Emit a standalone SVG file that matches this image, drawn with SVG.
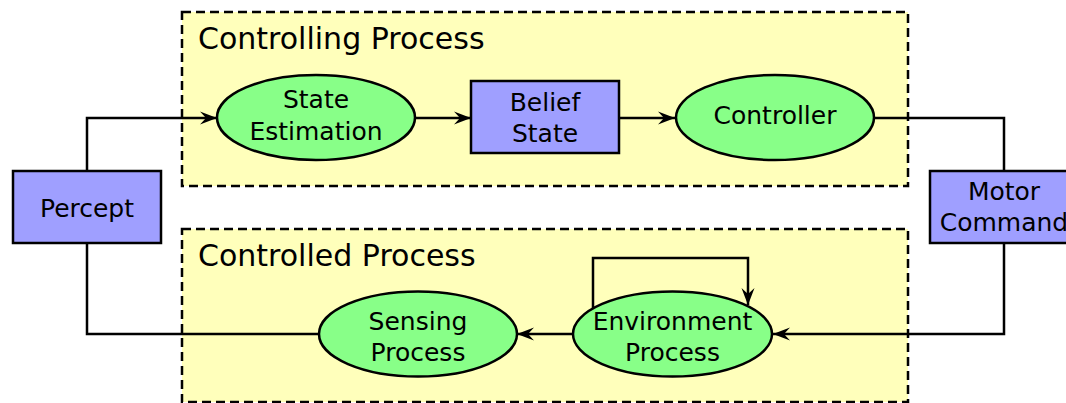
<svg xmlns="http://www.w3.org/2000/svg" width="1066" height="403" viewBox="0 0 1066 403">
  <style>
    text { font-family: "DejaVu Sans", "Liberation Sans", sans-serif; fill: #000; }
    .title { font-size: 30px; }
    .lbl { font-size: 25px; text-anchor: middle; }
    .proc { fill: #ffffbb; stroke: #000; stroke-width: 2.5; stroke-dasharray: 9 5; }
    .ell { fill: #88ff88; stroke: #000; stroke-width: 2.5; }
    .box { fill: #9f9fff; stroke: #000; stroke-width: 2.5; }
    .wire { fill: none; stroke: #000; stroke-width: 2.5; }
  </style>
  <defs>
    <marker id="arrow" markerUnits="userSpaceOnUse" markerWidth="22" markerHeight="16" viewBox="-20 -8 22 16" refX="0" refY="0" orient="auto">
      <path d="M0,0 L-17,-6.5 L-11,0 L-17,6.5 Z" fill="#000"/>
    </marker>
  </defs>

  <!-- process regions -->
  <g id="controlling-process">
    <rect class="proc" x="182" y="12" width="726" height="174"/>
    <text class="title" x="198" y="49">Controlling Process</text>
  </g>
  <g id="controlled-process">
    <rect class="proc" x="182" y="229" width="726" height="173"/>
    <text class="title" x="198" y="266">Controlled Process</text>
  </g>

  <!-- connectors -->
  <g id="connectors">
    <path class="wire" d="M87,171 V118 H217" marker-end="url(#arrow)"/>
    <path class="wire" d="M415,118 H471" marker-end="url(#arrow)"/>
    <path class="wire" d="M619,118 H675" marker-end="url(#arrow)"/>
    <path class="wire" d="M874,118 H1004 V171"/>
    <path class="wire" d="M1004,243 V334 H773" marker-end="url(#arrow)"/>
    <path class="wire" d="M573,334 H517" marker-end="url(#arrow)"/>
    <path class="wire" d="M319,334 H87 V243"/>
    <path class="wire" d="M593,312 V258 H748 V305" marker-end="url(#arrow)"/>
  </g>

  <!-- nodes -->
  <g id="percept">
    <rect class="box" x="13" y="171" width="148" height="72"/>
    <text class="lbl" x="87" y="217">Percept</text>
  </g>
  <g id="state-estimation">
    <ellipse class="ell" cx="316" cy="117.5" rx="99" ry="42.5"/>
    <text class="lbl" x="316" y="108">State</text>
    <text class="lbl" x="316" y="140">Estimation</text>
  </g>
  <g id="belief-state">
    <rect class="box" x="471" y="81" width="148" height="72"/>
    <text class="lbl" x="545" y="111">Belief</text>
    <text class="lbl" x="545" y="142">State</text>
  </g>
  <g id="controller">
    <ellipse class="ell" cx="775" cy="117.5" rx="99" ry="42.5"/>
    <text class="lbl" x="775" y="124">Controller</text>
  </g>
  <g id="motor-command">
    <rect class="box" x="930" y="171" width="148" height="72"/>
    <text class="lbl" x="1004" y="200">Motor</text>
    <text class="lbl" x="1004" y="231">Command</text>
  </g>
  <g id="environment-process">
    <ellipse class="ell" cx="672.5" cy="334" rx="99.5" ry="42.5"/>
    <text class="lbl" x="672.5" y="330">Environment</text>
    <text class="lbl" x="672.5" y="361">Process</text>
  </g>
  <g id="sensing-process">
    <ellipse class="ell" cx="418" cy="334" rx="99" ry="42.5"/>
    <text class="lbl" x="418" y="330">Sensing</text>
    <text class="lbl" x="418" y="361">Process</text>
  </g>
</svg>
